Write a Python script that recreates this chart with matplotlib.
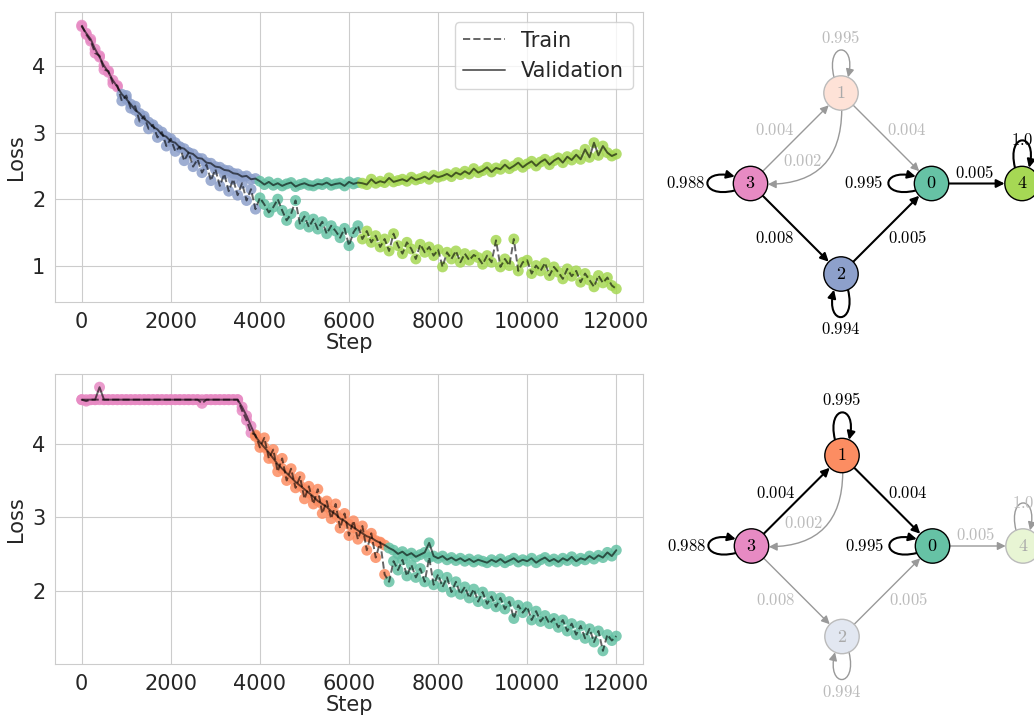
import numpy as np
import matplotlib
matplotlib.use("Agg")
from matplotlib import pyplot as plt
from matplotlib.patches import Circle, FancyArrowPatch
from matplotlib.path import Path
from matplotlib.colors import to_rgba
import seaborn as sns

sns.set_style("whitegrid")
plt.rcParams['mathtext.fontset'] = 'cm'

# Set2 colours, one per hidden state
STATE_COLORS = ['#66c2a5', '#fc8d62', '#8da0cb', '#e78ac3', '#a6d854']

steps = list(range(0, 12001, 100))

# --- run 1 (top) ---
top_val = [
    4.60, 4.50, 4.41, 4.26, 4.14, 4.01, 3.91, 3.79, 3.69, 3.58,
    3.51, 3.43, 3.34, 3.29, 3.21, 3.16, 3.09, 3.05, 2.97, 2.94,
    2.87, 2.85, 2.78, 2.76, 2.70, 2.68, 2.62, 2.61, 2.55, 2.54,
    2.49, 2.48, 2.44, 2.43, 2.39, 2.38, 2.34, 2.35, 2.30, 2.31,
    2.27, 2.22, 2.26, 2.21, 2.24, 2.20, 2.23, 2.25, 2.19, 2.22,
    2.24, 2.21, 2.20, 2.23, 2.22, 2.25, 2.21, 2.23, 2.24, 2.20,
    2.26, 2.23, 2.25, 2.24, 2.22, 2.30, 2.24, 2.27, 2.25, 2.32,
    2.26, 2.28, 2.30, 2.27, 2.33, 2.29, 2.31, 2.34, 2.30, 2.36,
    2.33, 2.35, 2.38, 2.34, 2.40, 2.37, 2.42, 2.38, 2.46, 2.40,
    2.43, 2.48, 2.41, 2.47, 2.45, 2.52, 2.46, 2.50, 2.55, 2.48,
    2.53, 2.57, 2.50, 2.56, 2.60, 2.52, 2.58, 2.62, 2.55, 2.64,
    2.59, 2.67, 2.60, 2.75, 2.63, 2.85, 2.66, 2.80, 2.70, 2.65,
    2.68,
]
top_train = [
    4.62, 4.48, 4.38, 4.20, 4.16, 3.95, 3.93, 3.74, 3.71, 3.48,
    3.56, 3.37, 3.40, 3.17, 3.25, 3.06, 3.12, 2.93, 3.01, 2.80,
    2.91, 2.72, 2.79, 2.58, 2.70, 2.49, 2.60, 2.40, 2.52, 2.28,
    2.45, 2.20, 2.38, 2.12, 2.30, 2.06, 2.24, 1.98, 2.15, 1.85,
    2.02, 1.92, 1.80, 1.88, 2.00, 1.83, 1.68, 1.78, 1.98, 1.62,
    1.74, 1.58, 1.70, 1.55, 1.66, 1.48, 1.60, 1.52, 1.42, 1.56,
    1.30, 1.50, 1.60, 1.40, 1.52, 1.35, 1.45, 1.28, 1.40, 1.22,
    1.48, 1.30, 1.18, 1.35, 1.25, 1.10, 1.32, 1.20, 1.28, 1.15,
    1.24, 0.98, 1.20, 1.10, 1.22, 1.05, 1.18, 1.08, 1.16, 1.12,
    1.02, 1.15, 1.05, 1.38, 0.98, 1.10, 1.00, 1.40, 0.92, 1.05,
    1.08, 0.88, 1.00, 0.92, 1.04, 0.85, 0.98, 0.90, 0.80, 0.95,
    0.84, 0.92, 0.75, 0.88, 0.78, 0.68, 0.85, 0.74, 0.82, 0.70,
    0.65,
]
top_seg_starts = [0, 900, 4000, 6300]
top_seg_states = [3, 2, 0, 4]

# --- run 2 (bottom) ---
bot_val = [
    4.60, 4.60, 4.60, 4.60, 4.77, 4.60, 4.60, 4.60, 4.60, 4.60,
    4.60, 4.60, 4.60, 4.60, 4.60, 4.60, 4.60, 4.60, 4.60, 4.60,
    4.60, 4.60, 4.60, 4.60, 4.60, 4.60, 4.60, 4.60, 4.60, 4.60,
    4.60, 4.60, 4.60, 4.60, 4.60, 4.60, 4.50, 4.38, 4.24, 4.10,
    4.02, 3.95, 3.88, 3.80, 3.72, 3.66, 3.60, 3.54, 3.48, 3.43,
    3.38, 3.33, 3.28, 3.22, 3.18, 3.14, 3.08, 3.04, 2.98, 2.95,
    2.90, 2.86, 2.82, 2.78, 2.74, 2.72, 2.68, 2.65, 2.62, 2.58,
    2.55, 2.50, 2.53, 2.48, 2.51, 2.46, 2.49, 2.52, 2.65, 2.47,
    2.44, 2.47, 2.42, 2.45, 2.41, 2.44, 2.40, 2.43, 2.39, 2.42,
    2.40, 2.38, 2.42, 2.39, 2.43, 2.38, 2.41, 2.44, 2.39, 2.42,
    2.40, 2.44, 2.38, 2.42, 2.45, 2.40, 2.43, 2.39, 2.44, 2.41,
    2.46, 2.40, 2.44, 2.42, 2.47, 2.43, 2.48, 2.45, 2.52, 2.47,
    2.55,
]
bot_train = [
    4.60, 4.58, 4.60, 4.60, 4.60, 4.60, 4.60, 4.60, 4.60, 4.60,
    4.60, 4.60, 4.60, 4.60, 4.60, 4.60, 4.60, 4.60, 4.60, 4.60,
    4.60, 4.60, 4.60, 4.60, 4.60, 4.60, 4.60, 4.55, 4.60, 4.60,
    4.60, 4.60, 4.60, 4.60, 4.60, 4.60, 4.45, 4.32, 4.15, 4.12,
    3.95, 4.08, 3.80, 3.92, 3.62, 3.80, 3.50, 3.66, 3.40, 3.55,
    3.25, 3.42, 3.18, 3.38, 3.05, 3.22, 2.98, 3.18, 2.85, 3.05,
    2.75, 2.95, 2.70, 2.88, 2.55, 2.78, 2.45, 2.66, 2.22, 2.12,
    2.40, 2.28, 2.42, 2.20, 2.35, 2.18, 2.30, 2.12, 2.45, 2.08,
    2.22, 2.05, 2.18, 1.98, 2.12, 1.95, 2.05, 1.90, 2.02, 1.85,
    1.98, 1.82, 1.92, 1.78, 1.90, 1.75, 1.85, 1.62, 1.80, 1.70,
    1.78, 1.60, 1.72, 1.58, 1.66, 1.55, 1.62, 1.50, 1.60, 1.45,
    1.55, 1.40, 1.52, 1.35, 1.48, 1.30, 1.45, 1.18, 1.40, 1.32,
    1.38,
]
bot_seg_starts = [0, 3900, 6900]
bot_seg_states = [3, 1, 0]

# --- transition graph ---
edges = [(3, 1), (1, 0), (1, 3), (3, 2), (2, 0), (0, 4)]
edge_probs = ['0.004', '0.004', '0.002', '0.008', '0.005', '0.005']
loop_nodes = [3, 1, 0, 2, 4]
loop_probs = ['0.988', '0.995', '0.995', '0.994', '1.0']

top_active_nodes = [3, 2, 0, 4]
top_active_edges = [(3, 2), (2, 0), (0, 4)]
bot_active_nodes = [3, 1, 0]
bot_active_edges = [(3, 1), (1, 0)]

POS = {0: (1, 0), 1: (0, 1), 2: (0, -1), 3: (-1, 0), 4: (2, 0)}
R = 0.19
edge_rads = [0, 0, -0.6, 0, 0, 0]
edge_label_xy = [(-0.73, 0.59), (0.73, 0.59), (-0.42, 0.25),
                 (-0.73, -0.60), (0.73, -0.60), (1.48, 0.12)]
loop_dirs = [180, 90, 180, 270, 90]
loop_label_xy = [(-1.72, 0), (0, 1.61), (0.25, 0), (0, -1.61), (2.0, 0.48)]

FADED_TEXT = '#bbbbbb'
FADED_EDGE = '#999999'


def plot_loss(ax, train, val, seg_starts, seg_states, legend=False):
    st = np.array(steps)
    idx = np.searchsorted(seg_starts, st, side='right') - 1
    colors = [STATE_COLORS[seg_states[i]] for i in idx]
    ax.scatter(st, train, c=colors, s=62, alpha=0.85, linewidths=0, zorder=2)
    ax.scatter(st, val, c=colors, s=62, alpha=0.85, linewidths=0, zorder=2)
    ax.plot(st, train, color='k', alpha=0.6, lw=1.4, ls='--', label='Train', zorder=3)
    ax.plot(st, val, color='k', alpha=0.6, lw=1.4, label='Validation', zorder=3)
    ax.set_xlabel('Step', fontsize=15, labelpad=1)
    ax.set_ylabel('Loss', fontsize=15)
    ax.tick_params(labelsize=15)
    ax.set_xticks(range(0, 12001, 2000))
    if legend:
        ax.legend(loc='upper right', fontsize=15)


def loop_path(node, ang):
    cx, cy = POS[node]
    t = np.radians(ang)
    d, f, L = np.radians(24), np.radians(17), 0.60
    pts = [(cx + R * np.cos(t + d), cy + R * np.sin(t + d)),
           (cx + L * np.cos(t + f), cy + L * np.sin(t + f)),
           (cx + L * np.cos(t - f), cy + L * np.sin(t - f)),
           (cx + R * np.cos(t - d), cy + R * np.sin(t - d))]
    return Path(pts, [Path.MOVETO, Path.CURVE4, Path.CURVE4, Path.CURVE4])


def draw_graph(ax, active_nodes, active_edges):
    ax.axis('off')
    for (a, b), p, rad, xy in zip(edges, edge_probs, edge_rads, edge_label_xy):
        on = (a, b) in active_edges
        arr = FancyArrowPatch(POS[a], POS[b], arrowstyle='-|>', mutation_scale=12,
                              shrinkA=12.5, shrinkB=12.5,
                              connectionstyle=f'arc3,rad={rad}',
                              color='k' if on else FADED_EDGE, lw=1.5 if on else 1.0,
                              zorder=1, clip_on=False)
        ax.add_patch(arr)
        ax.text(*xy, f'${p}$', ha='center', va='center', fontsize=12,
                color='k' if on else FADED_TEXT)
    for n, p, ang, xy in zip(loop_nodes, loop_probs, loop_dirs, loop_label_xy):
        on = n in active_nodes
        arr = FancyArrowPatch(path=loop_path(n, ang), arrowstyle='-|>', mutation_scale=12,
                              color='k' if on else FADED_EDGE, lw=1.5 if on else 1.0,
                              zorder=1, clip_on=False)
        ax.add_patch(arr)
        ax.text(*xy, f'${p}$', ha='center', va='center', fontsize=12,
                color='k' if on else FADED_TEXT)
    for n, xy in POS.items():
        on = n in active_nodes
        fc = STATE_COLORS[n] if on else to_rgba(STATE_COLORS[n], 0.25)
        ax.add_patch(Circle(xy, R, fc=fc, ec='k' if on else FADED_TEXT,
                            lw=1.0, zorder=3, clip_on=False))
        ax.text(*xy, f'${n}$', ha='center', va='center', fontsize=13, zorder=4,
                color='k' if on else '#aaaaaa')


W, H = 1034, 715
fig = plt.figure(figsize=(W / 100, H / 100), dpi=100)

ax_top = fig.add_axes([55 / W, (H - 302) / H, 588 / W, 290 / H])
ax_bot = fig.add_axes([55 / W, (H - 664) / H, 588 / W, 290 / H])
plot_loss(ax_top, top_train, top_val, top_seg_starts, top_seg_states, legend=True)
plot_loss(ax_bot, bot_train, bot_val, bot_seg_starts, bot_seg_states)

u = 90.5
g_top = fig.add_axes([650 / W, (H - 357) / H, 384 / W, 357 / H])
g_top.set_xlim((650 - 841) / u, (1034 - 841) / u)
g_top.set_ylim((183.5 - 357) / u, 183.5 / u)
draw_graph(g_top, top_active_nodes, top_active_edges)

g_bot = fig.add_axes([650 / W, 0, 384 / W, 357 / H])
g_bot.set_xlim((650 - 842) / u, (1034 - 842) / u)
g_bot.set_ylim((546 - 715) / u, (546 - 358) / u)
draw_graph(g_bot, bot_active_nodes, bot_active_edges)

fig.savefig('out.png', dpi=100)
